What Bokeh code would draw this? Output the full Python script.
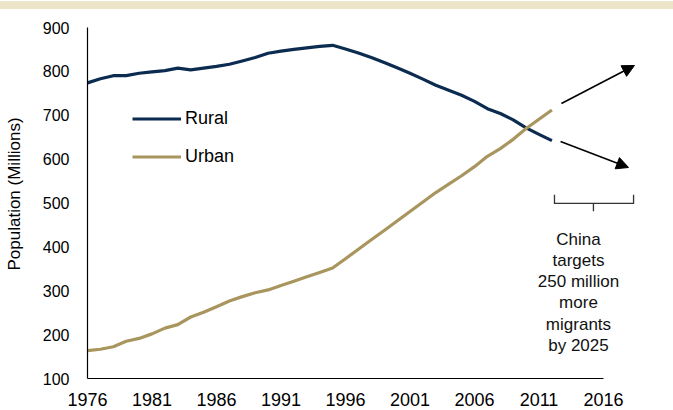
from bokeh.plotting import figure
from bokeh.models import Range1d, FixedTicker, Legend, LegendItem, Arrow, NormalHead, Div
from bokeh.layouts import column
from bokeh.embed import file_html
from bokeh.resources import INLINE
from bokeh.core.properties import value

# ---- data ----
years = list(range(1976, 2013))
rural = [773.76, 783.05, 790.14, 790.47, 795.65, 799.01, 801.74, 807.34, 803.40, 807.57,
         811.41, 816.26, 823.65, 831.64, 841.38, 846.20, 849.96, 853.44, 856.81, 859.47,
         850.85, 841.77, 831.53, 820.38, 808.37, 795.63, 782.41, 768.51, 757.05, 745.44,
         731.60, 714.96, 703.99, 689.38, 671.13, 656.56, 642.22]
urban = [163.41, 166.69, 172.45, 184.95, 191.40, 201.71, 214.80, 222.74, 240.17, 250.94,
         263.66, 276.74, 286.61, 295.40, 301.95, 312.03, 321.75, 331.73, 341.69, 351.74,
         373.04, 394.49, 416.08, 437.48, 459.06, 480.64, 502.12, 523.76, 542.83, 562.12,
         582.88, 606.33, 624.03, 645.12, 669.78, 690.79, 711.82]
x_ticks = [1976, 1981, 1986, 1991, 1996, 2001, 2006, 2011, 2016]
y_ticks = [100, 200, 300, 400, 500, 600, 700, 800, 900]
note = "China\ntargets\n250 million\nmore\nmigrants\nby 2025"

FONT = "Liberation Sans"
RURAL_C = "#0B2B50"
URBAN_C = "#A8965E"

W, H = 673, 401
PX_PER_YEAR = 12.9
PX_PER_UNIT = 0.43875

p = figure(width=W, height=H, output_backend="svg", toolbar_location=None,
           x_range=Range1d(1976, 1976 + 586 / PX_PER_YEAR),
           y_range=Range1d(100, 100 + 369 / PX_PER_UNIT),
           min_border_left=87, min_border_right=0, min_border_top=0, min_border_bottom=32)
p.grid.visible = False
p.outline_line_color = None
p.background_fill_color = "white"
p.border_fill_color = "white"

for ax in (p.xaxis, p.yaxis):
    ax.axis_line_color = "black"
    ax.axis_line_width = 1.2
    ax.major_tick_out = 0
    ax.major_tick_in = 0
    ax.minor_tick_out = 0
    ax.minor_tick_in = 0
    ax.major_label_text_font = FONT
    ax.major_label_text_color = "black"

p.xaxis.bounds = (1976, 2016)
p.yaxis.bounds = (100, 900)
p.xaxis.ticker = FixedTicker(ticks=x_ticks)
p.yaxis.ticker = FixedTicker(ticks=y_ticks)
p.xaxis.major_label_text_font_size = "18px"
p.xaxis.major_label_text_line_height = 0.9
p.yaxis.major_label_text_font_size = "16px"
p.xaxis.major_label_standoff = 14
p.yaxis.major_label_standoff = 18
p.yaxis.axis_label = "Population (Millions)"
p.yaxis.axis_label_text_font = FONT
p.yaxis.axis_label_text_font_size = "17px"
p.yaxis.axis_label_text_font_style = "normal"
p.yaxis.axis_label_text_color = "black"
p.yaxis.axis_label_standoff = 16

r_rural = p.line(years, rural, line_color=RURAL_C, line_width=3.2, line_join="round")
r_urban = p.line(years, urban, line_color=URBAN_C, line_width=3.2, line_join="round")

legend = Legend(items=[LegendItem(label="Rural", renderers=[r_rural]),
                       LegendItem(label="Urban", renderers=[r_urban])],
                location=(45, 211), glyph_width=49, glyph_height=21, label_height=21,
                spacing=17, label_standoff=4, padding=10,
                label_text_font=FONT, label_text_font_size="18px", label_text_color="black",
                border_line_color=None, background_fill_alpha=0)
p.add_layout(legend)

# arrows
p.add_layout(Arrow(end=NormalHead(size=12, fill_color="black", line_color="black"),
                   x_start=2012.74, y_start=726.8, x_end=2018.40, y_end=813.4,
                   line_width=1.6, line_color="black"))
p.add_layout(Arrow(end=NormalHead(size=12, fill_color="black", line_color="black"),
                   x_start=2012.67, y_start=640.2, x_end=2017.94, y_end=580.9,
                   line_width=1.6, line_color="black"))

# bracket
p.line([2012.2, 2012.2, 2018.33, 2018.33], [519, 499, 499, 519], line_color="#333333",
       line_width=1.3, line_join="round")
p.line([2015.22, 2015.22], [499, 481], line_color="#333333", line_width=1.3)

p.text(x=[2014.06], y=[439.6], text=[note], text_align="center", text_baseline="top",
       text_font=value(FONT), text_font_size=value("17px"), text_line_height=1.12,
       text_color="#111111")

strip = Div(width=W, height=8, margin=(1, 0, 0, 0), styles={"background-color": "#EDE5CA"})
layout = column(strip, p, spacing=0)

open("out.html", "w").write(file_html(layout, INLINE))
